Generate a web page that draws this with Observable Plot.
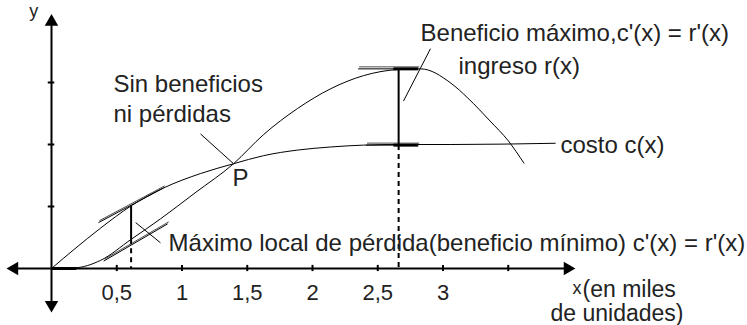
<!DOCTYPE html>
<html><head><meta charset="utf-8">
<script src="https://cdn.jsdelivr.net/npm/d3@7"></script>
<script src="https://cdn.jsdelivr.net/npm/@observablehq/plot@0.6"></script>
<style>body{margin:0;background:#fff}</style>
</head><body><div id="chart"></div>
<script>
// cost curve c(x)
const costX = [0, 0.18, 0.375, 0.61, 0.86, 1.14, 1.395, 1.625, 1.885, 2.14, 2.39, 2.66, 3.06, 3.86];
const costY = [0, 0.32, 0.65, 1.01, 1.30, 1.53, 1.69, 1.82, 1.91, 1.96, 1.99, 2.0, 2.0, 2.02];
// revenue curve r(x)
const revX = [0, 0.18, 0.375, 0.61, 0.835, 1.10, 1.395, 1.625, 1.885, 2.14, 2.39, 2.66, 2.83, 3.06, 3.19, 3.36, 3.50, 3.62];
const revY = [0, 0.01, 0.13, 0.47, 0.80, 1.22, 1.69, 2.16, 2.58, 2.90, 3.11, 3.21, 3.22, 2.99, 2.75, 2.38, 2.06, 1.70];
// axis ticks
const xTicks = [0.5, 1, 1.5, 2, 2.5, 3, 3.5];
const xTickLabels = ["0,5", "1", "1,5", "2", "2,5", "3", ""];
const yTicks = [1, 2, 3];
// special points where c'(x) = r'(x)
const pointsX = [0.61, 2.66];
const pointsC = [1.01, 1.99];
const pointsR = [0.47, 3.22];
// tangent segments [x1,y1,x2,y2]
const tangents = [
  [0.36, 0.74, 0.86, 1.30],
  [0.40, 0.12, 0.89, 0.72],
  [2.35, 3.22, 2.81, 3.22],
  [2.41, 1.99, 2.81, 1.99]
];
const boldSegs = [
  [0, 0, 0.19, 0],
  [2.62, 3.22, 2.81, 3.22],
  [2.62, 1.99, 2.81, 1.99]
];
// pointer lines [x1,y1,x2,y2]
const pointers = [
  [1.142, 2.17, 1.395, 1.69],
  [0.645, 0.74, 0.835, 0.415],
  [2.904, 3.545, 2.697, 2.70]
];
// labels
const labelText = ["Sin beneficios\nni pérdidas", "P", "Beneficio máximo,c'(x) = r'(x)", "ingreso r(x)", "costo c(x)",
  "Máximo local de pérdida(beneficio mínimo) c'(x) = r'(x)"];
const labelX = [0.475, 1.387, 2.828, 3.119, 3.90, 0.897];
const labelY = [2.355, 1.334, 3.673, 3.14, 1.866, 0.285];
const unitText = ["(en miles", "de unidades)"];
const unitX = [4.069, 3.824];
const unitY = [-0.456, -0.846];
const axisNames = ["x", "y"];
const axisNameX = [3.992, -0.17];
const axisNameY = [-0.408, 4.05];
// axis extents and arrowheads
const axisXExtent = [-0.29, 3.96];
const axisYExtent = [-0.59, 3.98];
const arrowX = [-0.285, 3.955, 0, 0];
const arrowY = [0, 0, 3.98, -0.585];
const arrowRot = [-90, 90, 0, 180];

const cost = costX.map((x, i) => ({x, y: costY[i]}));
const rev = revX.map((x, i) => ({x, y: revY[i]}));
const seg = a => a.map(([x1, y1, x2, y2]) => ({x1, y1, x2, y2}));
const labels = labelText.map((t, i) => ({t, x: labelX[i], y: labelY[i]}));
const units = unitText.map((t, i) => ({t, x: unitX[i], y: unitY[i]}));
const names = axisNames.map((t, i) => ({t, x: axisNameX[i], y: axisNameY[i]}));
const arrows = arrowX.map((x, i) => ({x, y: arrowY[i], r: arrowRot[i]}));
const pts = pointsX.map((x, i) => ({x, c: pointsC[i], r: pointsR[i]}));
const ticks = xTicks.map((x, i) => ({x, t: xTickLabels[i]}));

const font = "Liberation Sans";
const chart = Plot.plot({
  width: 747, height: 325,
  marginLeft: 51, marginRight: 174, marginTop: 20, marginBottom: 57,
  x: {domain: [0, 4], axis: null},
  y: {domain: [0, 4], axis: null},
  style: {fontFamily: font, background: "#fff"},
  marks: [
    // axes
    Plot.ruleY([0], {x1: axisXExtent[0], x2: axisXExtent[1], stroke: "#000", strokeWidth: 2}),
    Plot.ruleX([0], {y1: axisYExtent[0], y2: axisYExtent[1], stroke: "#000", strokeWidth: 2}),
    Plot.ruleX(xTicks, {x: d => d, y1: -0.05, y2: 0.05, stroke: "#000", strokeWidth: 2}),
    Plot.ruleY(yTicks, {y: d => d, x1: -0.025, x2: 0.025, stroke: "#000", strokeWidth: 2}),
    Plot.dot(arrows, {x: "x", y: "y", rotate: "r", symbol: "triangle", r: 5, fill: "#000", stroke: null}),
    Plot.text(ticks, {x: "x", y: 0, dy: 31, text: "t", fontSize: 22, fill: "#222", lineAnchor: "bottom"}),
    // curves
    Plot.line(cost, {x: "x", y: "y", curve: "monotone-x", stroke: "#000", strokeWidth: 1}),
    Plot.line(rev, {x: "x", y: "y", curve: "monotone-x", stroke: "#000", strokeWidth: 1}),
    // tangents
    Plot.link(seg(tangents), {x1: "x1", y1: "y1", x2: "x2", y2: "y2", stroke: "#000", strokeWidth: 1}),
    Plot.link(seg(tangents), {x1: "x1", y1: "y1", x2: "x2", y2: "y2", stroke: "#000", strokeWidth: 1, dx: 1, dy: -2, strokeOpacity: 0.7}),
    Plot.link(seg(boldSegs), {x1: "x1", y1: "y1", x2: "x2", y2: "y2", stroke: "#000", strokeWidth: 3}),
    // vertical gaps
    Plot.link(pts, {x1: "x", x2: "x", y1: "c", y2: "r", stroke: "#000", strokeWidth: 2}),
    Plot.link(pts, {x1: "x", x2: "x", y1: d => Math.min(d.c, d.r), y2: 0, stroke: "#000", strokeWidth: 2, strokeDasharray: "5,4"}),
    // pointers
    Plot.link(seg(pointers), {x1: "x1", y1: "y1", x2: "x2", y2: "y2", stroke: "#000", strokeWidth: 1}),
    // labels
    Plot.text(labels, {x: "x", y: "y", text: "t", textAnchor: "start", lineAnchor: "bottom", fontSize: 24, lineHeight: 1.25, fill: "#222"}),
    Plot.text(units, {x: "x", y: "y", text: "t", textAnchor: "start", lineAnchor: "bottom", fontSize: 23, fill: "#222"}),
    Plot.text(names, {x: "x", y: "y", text: "t", textAnchor: "start", lineAnchor: "bottom", fontSize: 18, fill: "#222"})
  ]
});
document.getElementById("chart").appendChild(chart);
</script>
</body></html>
